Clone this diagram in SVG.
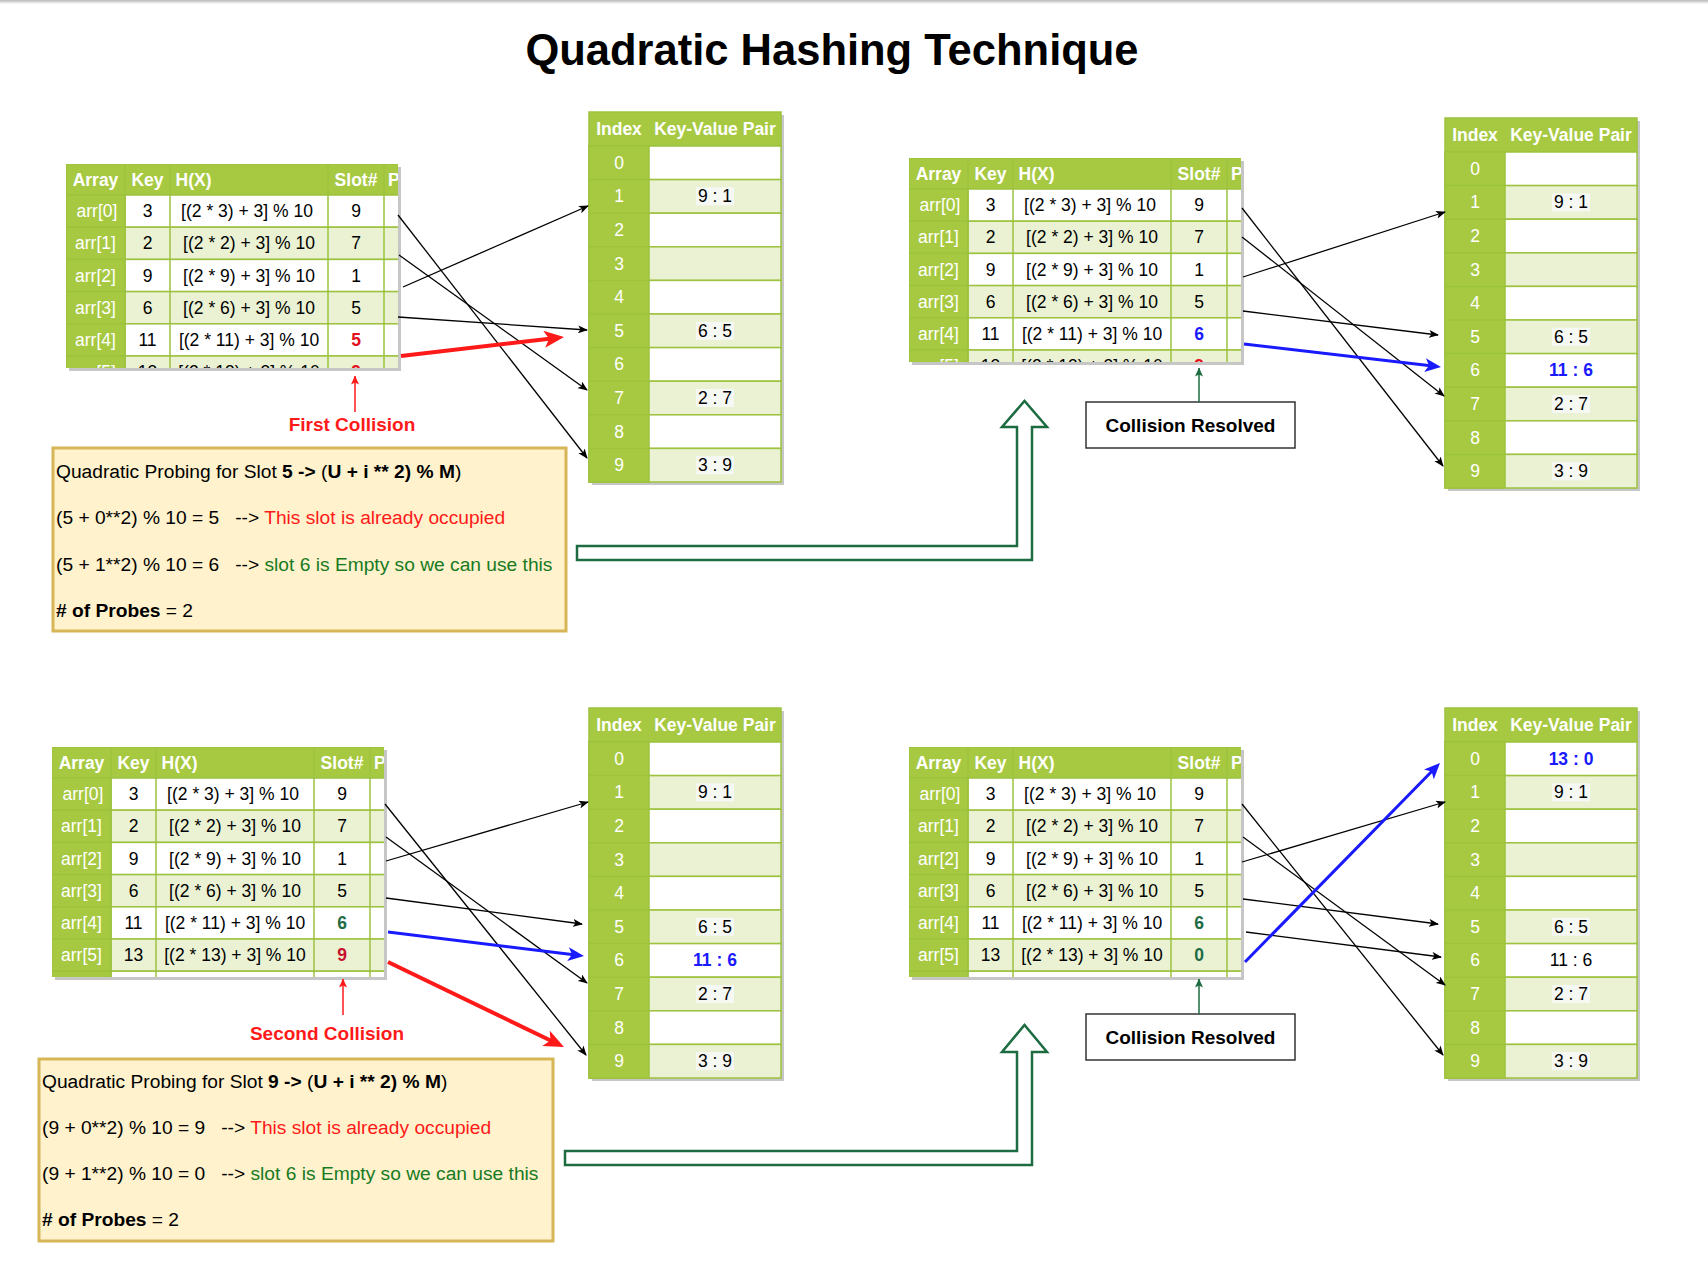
<svg xmlns="http://www.w3.org/2000/svg" xmlns:xlink="http://www.w3.org/1999/xlink" width="1708" height="1276" viewBox="0 0 1708 1276">
<defs>
<style>
text{font-family:"Liberation Sans",Arial,Helvetica,sans-serif}
.t{font-size:17.5px;fill:#000;text-anchor:middle}
.tw{font-size:17.5px;fill:#fff;text-anchor:middle}
.th{font-size:17.5px;font-weight:bold;fill:#fff;text-anchor:middle}
.ths{font-size:17.5px;font-weight:bold;fill:#fff}
.g{fill:#a7c942;stroke:#9dc23e;stroke-width:1.5}
.w{fill:#ffffff;stroke:#9dc23e;stroke-width:1.5}
.l{fill:#eaf2d3;stroke:#9dc23e;stroke-width:1.5}
.vl{stroke:#9dc23e;stroke-width:1.5}
.sh{fill:#c6c6c6}
.lb{fill:#f6f8f3}
.box{fill:#fff2cc;stroke:#d6b656;stroke-width:3}
.bt{font-size:19.2px;fill:#000;white-space:pre}
.b{font-weight:bold}
.red{fill:#ff1a1a}
.grn{fill:#177a22}
.sred{fill:#e3101c;font-weight:bold}
.sred2{fill:#c8102e;font-weight:bold}
.sblu{fill:#1a1aff;font-weight:bold}
.sgrn{fill:#1e6b45;font-weight:bold}
.lbl{font-size:19px;font-weight:bold;fill:#ff1a1a;text-anchor:middle}
.cr{fill:#fff;stroke:#333;stroke-width:1.5}
.crt{font-size:19px;font-weight:bold;fill:#000;text-anchor:middle}
.blk{stroke:#000;stroke-width:1.3;fill:none;marker-end:url(#ah)}
.rth{stroke:#ff1a1a;stroke-width:4;fill:none;marker-end:url(#ahRed)}
.bth{stroke:#1a1aff;stroke-width:3;fill:none;marker-end:url(#ahBlue)}
.gth{stroke:#1d6b40;stroke-width:1.5;fill:none;marker-end:url(#ahGreen)}
.rtn{stroke:#ff1a1a;stroke-width:1.5;fill:none;marker-end:url(#ahRedS)}
.hollow{fill:#fff;stroke:#1d6b40;stroke-width:2.5;stroke-linejoin:miter}
</style>
<linearGradient id="topg" x1="0" y1="0" x2="0" y2="1">
<stop offset="0" stop-color="#b8b8b8"/><stop offset="1" stop-color="#ffffff"/>
</linearGradient>
<clipPath id="clipTop"><rect x="0" y="0" width="332" height="204"/></clipPath>
<clipPath id="clipBot"><rect x="0" y="0" width="332" height="230"/></clipPath>
<marker id="ah" markerWidth="10" markerHeight="8" refX="9" refY="4" orient="auto" markerUnits="userSpaceOnUse"><path d="M0,0 L10,4 L0,8 L2.5,4 Z" fill="#000"/></marker>
<marker id="ahRed" markerWidth="20" markerHeight="17" refX="12" refY="8.5" orient="auto" markerUnits="userSpaceOnUse"><path d="M0,0 L20,8.5 L0,17 L5,8.5 Z" fill="#ff1a1a"/></marker>
<marker id="ahBlue" markerWidth="16" markerHeight="14" refX="10" refY="7" orient="auto" markerUnits="userSpaceOnUse"><path d="M0,0 L16,7 L0,14 L4,7 Z" fill="#1a1aff"/></marker>
<marker id="ahGreen" markerWidth="9" markerHeight="8" refX="8.5" refY="4" orient="auto" markerUnits="userSpaceOnUse"><path d="M0,0 L9,4 L0,8 L2,4 Z" fill="#1d6b40"/></marker>
<marker id="ahRedS" markerWidth="9" markerHeight="8" refX="8.5" refY="4" orient="auto" markerUnits="userSpaceOnUse"><path d="M0,0 L9,4 L0,8 L2,4 Z" fill="#ff1a1a"/></marker>

<g id="tblBase">
<rect class="g" x="0" y="0" width="380" height="31"/>
<rect class="w" x="0" y="31" width="380" height="32.2"/>
<rect class="l" x="0" y="63.2" width="380" height="32.2"/>
<rect class="w" x="0" y="95.4" width="380" height="32.2"/>
<rect class="l" x="0" y="127.6" width="380" height="32.2"/>
<rect class="w" x="0" y="159.8" width="380" height="32.2"/>
<rect class="l" x="0" y="192" width="380" height="32.2"/>
<rect class="w" x="0" y="224.2" width="380" height="32.2"/>
<rect class="g" x="0" y="31" width="59" height="32.2"/>
<rect class="g" x="0" y="63.2" width="59" height="32.2"/>
<rect class="g" x="0" y="95.4" width="59" height="32.2"/>
<rect class="g" x="0" y="127.6" width="59" height="32.2"/>
<rect class="g" x="0" y="159.8" width="59" height="32.2"/>
<rect class="g" x="0" y="192" width="59" height="32.2"/>
<rect class="g" x="0" y="224.2" width="59" height="32.2"/>
<line class="vl" x1="59" y1="0" x2="59" y2="260"/>
<line class="vl" x1="104" y1="0" x2="104" y2="260"/>
<line class="vl" x1="262" y1="0" x2="262" y2="260"/>
<line class="vl" x1="318" y1="0" x2="318" y2="260"/>
<text class="th" x="29.5" y="21.5">Array</text>
<text class="th" x="81.5" y="21.5">Key</text>
<text class="ths" x="109.5" y="21.5">H(X)</text>
<text class="th" x="290" y="21.5">Slot#</text>
<text class="ths" x="322" y="21.5">P</text>
<text class="tw" x="31" y="53.1">arr[0]</text><text class="t" x="81.5" y="53.1">3</text><text class="t" x="181" y="53.1">[(2 * 3) + 3] % 10</text><text class="t" x="290" y="53.1">9</text>
<text class="tw" x="29.5" y="85.3">arr[1]</text><text class="t" x="81.5" y="85.3">2</text><text class="t" x="183" y="85.3">[(2 * 2) + 3] % 10</text><text class="t" x="290" y="85.3">7</text>
<text class="tw" x="29.5" y="117.5">arr[2]</text><text class="t" x="81.5" y="117.5">9</text><text class="t" x="183" y="117.5">[(2 * 9) + 3] % 10</text><text class="t" x="290" y="117.5">1</text>
<text class="tw" x="29.5" y="149.7">arr[3]</text><text class="t" x="81.5" y="149.7">6</text><text class="t" x="183" y="149.7">[(2 * 6) + 3] % 10</text><text class="t" x="290" y="149.7">5</text>
<text class="tw" x="29.5" y="181.9">arr[4]</text><text class="t" x="81.5" y="181.9">11</text><text class="t" x="183" y="181.9">[(2 * 11) + 3] % 10</text>
<text class="tw" x="29.5" y="214.1">arr[5]</text><text class="t" x="81.5" y="214.1">13</text><text class="t" x="183" y="214.1">[(2 * 13) + 3] % 10</text>
</g>

<g id="htBase">
<rect class="g" x="0" y="0" width="192" height="34"/>
<rect class="w" x="0" y="34" width="192" height="33.6"/>
<rect class="l" x="0" y="67.6" width="192" height="33.6"/>
<rect class="w" x="0" y="101.2" width="192" height="33.6"/>
<rect class="l" x="0" y="134.8" width="192" height="33.6"/>
<rect class="w" x="0" y="168.4" width="192" height="33.6"/>
<rect class="l" x="0" y="202" width="192" height="33.6"/>
<rect class="w" x="0" y="235.6" width="192" height="33.6"/>
<rect class="l" x="0" y="269.2" width="192" height="33.6"/>
<rect class="w" x="0" y="302.8" width="192" height="33.6"/>
<rect class="l" x="0" y="336.4" width="192" height="33.6"/>
<rect class="g" x="0" y="34" width="60" height="336"/>
<line class="vl" x1="0" y1="67.6" x2="60" y2="67.6"/>
<line class="vl" x1="0" y1="101.2" x2="60" y2="101.2"/>
<line class="vl" x1="0" y1="134.8" x2="60" y2="134.8"/>
<line class="vl" x1="0" y1="168.4" x2="60" y2="168.4"/>
<line class="vl" x1="0" y1="202" x2="60" y2="202"/>
<line class="vl" x1="0" y1="235.6" x2="60" y2="235.6"/>
<line class="vl" x1="0" y1="269.2" x2="60" y2="269.2"/>
<line class="vl" x1="0" y1="302.8" x2="60" y2="302.8"/>
<line class="vl" x1="0" y1="336.4" x2="60" y2="336.4"/>
<text class="th" x="30" y="23">Index</text>
<text class="th" x="126" y="23">Key-Value Pair</text>
<text class="tw" x="30" y="56.8">0</text>
<text class="tw" x="30" y="90.4">1</text>
<text class="tw" x="30" y="124">2</text>
<text class="tw" x="30" y="157.6">3</text>
<text class="tw" x="30" y="191.2">4</text>
<text class="tw" x="30" y="224.8">5</text>
<text class="tw" x="30" y="258.4">6</text>
<text class="tw" x="30" y="292">7</text>
<text class="tw" x="30" y="325.6">8</text>
<text class="tw" x="30" y="359.2">9</text>
<rect class="lb" x="107" y="75.4" width="38" height="18"/>
<rect class="lb" x="107" y="209.8" width="38" height="18"/>
<rect class="lb" x="107" y="277" width="38" height="18"/>
<rect class="lb" x="107" y="344.2" width="38" height="18"/>
<text class="t" x="126" y="90.4">9 : 1</text>
<text class="t" x="126" y="224.8">6 : 5</text>
<text class="t" x="126" y="292">2 : 7</text>
<text class="t" x="126" y="359.2">3 : 9</text>
</g>
</defs>

<rect x="0" y="0" width="1708" height="1276" fill="#ffffff"/>
<rect x="0" y="0" width="1708" height="4" fill="url(#topg)"/>

<g id="title">
<text x="832" y="65" font-size="43.5" font-weight="bold" text-anchor="middle" fill="#000">Quadratic Hashing Technique</text>
</g>

<g id="table1" transform="translate(66,164)">
<rect class="sh" x="3" y="3" width="332" height="204"/>
<g clip-path="url(#clipTop)">
<use xlink:href="#tblBase"/>
<text class="t sred" x="290" y="181.9">5</text>
<text class="t sred" x="290" y="214.1">9</text>
</g>
</g>

<g id="table2" transform="translate(909,158)">
<rect class="sh" x="3" y="3" width="332" height="204"/>
<g clip-path="url(#clipTop)">
<use xlink:href="#tblBase"/>
<text class="t sblu" x="290" y="181.9">6</text>
<text class="t sred" x="290" y="214.1">9</text>
</g>
</g>

<g id="table3" transform="translate(52,747)">
<rect class="sh" x="3" y="3" width="332" height="230"/>
<g clip-path="url(#clipBot)">
<use xlink:href="#tblBase"/>
<text class="t sgrn" x="290" y="181.9">6</text>
<text class="t sred2" x="290" y="214.1">9</text>
</g>
</g>

<g id="table4" transform="translate(909,747)">
<rect class="sh" x="3" y="3" width="332" height="230"/>
<g clip-path="url(#clipBot)">
<use xlink:href="#tblBase"/>
<text class="t sgrn" x="290" y="181.9">6</text>
<text class="t sgrn" x="290" y="214.1">0</text>
</g>
</g>

<g id="hashtable1" transform="translate(589,112)">
<rect class="sh" x="3" y="3" width="192" height="370"/>
<use xlink:href="#htBase"/>
</g>

<g id="hashtable2" transform="translate(1445,118)">
<rect class="sh" x="3" y="3" width="192" height="370"/>
<use xlink:href="#htBase"/>
<text class="t sblu" x="126" y="258.4">11 : 6</text>
</g>

<g id="hashtable3" transform="translate(589,708)">
<rect class="sh" x="3" y="3" width="192" height="370"/>
<use xlink:href="#htBase"/>
<text class="t sblu" x="126" y="258.4">11 : 6</text>
</g>

<g id="hashtable4" transform="translate(1445,708)">
<rect class="sh" x="3" y="3" width="192" height="370"/>
<use xlink:href="#htBase"/>
<text class="t sblu" x="126" y="56.8">13 : 0</text>
<text class="t" x="126" y="258.4">11 : 6</text>
</g>

<g id="probing1">
<rect class="box" x="53" y="448" width="513" height="183"/>
<text class="bt" x="56" y="478">Quadratic Probing for Slot <tspan class="b">5 -&gt;</tspan> (<tspan class="b">U + i ** 2) % M</tspan>)</text>
<text class="bt" x="56" y="524">(5 + 0**2) % 10 = 5   --&gt; <tspan class="red">This slot is already occupied</tspan></text>
<text class="bt" x="56" y="571">(5 + 1**2) % 10 = 6   --&gt; <tspan class="grn">slot 6 is Empty so we can use this</tspan></text>
<text class="bt" x="56" y="617"><tspan class="b"># of Probes</tspan> = 2</text>
</g>

<g id="probing2">
<rect class="box" x="39" y="1059" width="514" height="182"/>
<text class="bt" x="42" y="1088">Quadratic Probing for Slot <tspan class="b">9 -&gt;</tspan> (<tspan class="b">U + i ** 2) % M</tspan>)</text>
<text class="bt" x="42" y="1134">(9 + 0**2) % 10 = 9   --&gt; <tspan class="red">This slot is already occupied</tspan></text>
<text class="bt" x="42" y="1180">(9 + 1**2) % 10 = 0   --&gt; <tspan class="grn">slot 6 is Empty so we can use this</tspan></text>
<text class="bt" x="42" y="1226"><tspan class="b"># of Probes</tspan> = 2</text>
</g>

<g id="label-first-collision">
<text class="lbl" x="352" y="431">First Collision</text>
</g>
<g id="label-second-collision">
<text class="lbl" x="327" y="1040">Second Collision</text>
</g>

<g id="resolved1">
<rect class="cr" x="1086" y="402" width="209" height="46"/>
<text class="crt" x="1190.5" y="432">Collision Resolved</text>
</g>
<g id="resolved2">
<rect class="cr" x="1086" y="1014" width="209" height="46"/>
<text class="crt" x="1190.5" y="1044">Collision Resolved</text>
</g>

<g id="connectors">
<line class="blk" x1="398" y1="215" x2="587" y2="458"/>
<line class="blk" x1="399" y1="255" x2="587" y2="390"/>
<line class="blk" x1="403" y1="287" x2="588" y2="206"/>
<line class="blk" x1="398" y1="317" x2="587" y2="330"/>
<line class="rth" x1="401" y1="356" x2="556.1" y2="337.9"/>

<line class="blk" x1="1242" y1="208" x2="1443" y2="466"/>
<line class="blk" x1="1242" y1="237" x2="1444" y2="396"/>
<line class="blk" x1="1243" y1="277" x2="1445" y2="212"/>
<line class="blk" x1="1243" y1="311" x2="1438" y2="335"/>
<line class="bth" x1="1244" y1="344" x2="1435" y2="366.3"/>

<line class="blk" x1="385" y1="804" x2="586" y2="1055"/>
<line class="blk" x1="386" y1="837" x2="587" y2="983"/>
<line class="blk" x1="386" y1="861" x2="588" y2="802"/>
<line class="blk" x1="386" y1="898" x2="582" y2="924"/>
<line class="bth" x1="388" y1="932" x2="578" y2="955.3"/>
<line class="rth" x1="388" y1="962" x2="556.8" y2="1043.5"/>

<line class="blk" x1="1242" y1="804" x2="1443" y2="1055"/>
<line class="blk" x1="1243" y1="837" x2="1445" y2="985"/>
<line class="blk" x1="1242" y1="862" x2="1445" y2="802"/>
<line class="blk" x1="1243" y1="899" x2="1438" y2="924"/>
<line class="blk" x1="1246" y1="932" x2="1441" y2="957"/>
<line class="bth" x1="1245" y1="962" x2="1435.8" y2="767.3"/>

<line class="rtn" x1="355" y1="412" x2="355" y2="376"/>
<line class="rtn" x1="343" y1="1015" x2="343" y2="979"/>
<line class="gth" x1="1199" y1="402" x2="1199" y2="368"/>
<line class="gth" x1="1199" y1="1014" x2="1199" y2="979"/>

<path class="hollow" d="M577,546 L1017,546 L1017,427 L1002,427 L1024.5,401 L1047,427 L1032,427 L1032,560 L577,560 Z"/>
<path class="hollow" d="M565,1151 L1017,1151 L1017,1052 L1002,1052 L1024.5,1025 L1047,1052 L1032,1052 L1032,1165 L565,1165 Z"/>
</g>
</svg>
